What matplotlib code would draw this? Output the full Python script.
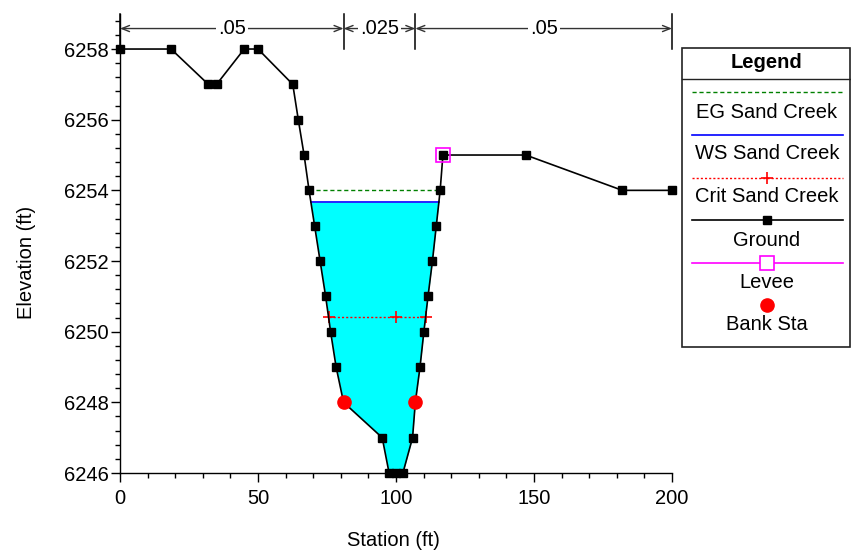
import numpy as np
import matplotlib
matplotlib.use("Agg")
import matplotlib.pyplot as plt
from matplotlib.patches import Rectangle
from matplotlib.ticker import MultipleLocator, FormatStrFormatter

plt.rcParams['font.family'] = ['Liberation Sans', 'DejaVu Sans']

# ---------------- data ----------------
station = [0, 18.5, 32, 35, 45, 50, 62.6, 64.6, 66.7, 68.5, 70.5, 72.5, 74.5,
           76.3, 78.3, 81, 95, 97.5, 100, 102.5, 106, 107, 108.7, 110.1, 111.6,
           113.2, 114.6, 116, 117, 147, 182, 200]
elevation = [6258, 6258, 6257, 6257, 6258, 6258, 6257, 6256, 6255, 6254, 6253,
             6252, 6251, 6250, 6249, 6248, 6247, 6246, 6246, 6246, 6247, 6248,
             6249, 6250, 6251, 6252, 6253, 6254, 6255, 6255, 6254, 6254]
bank_station = [81, 107]
bank_elev = [6248, 6248]
levee_station = [117]
levee_elev = [6255]
eg_elev = 6254.02
ws_elev = 6253.66
crit_elev = 6250.42
crit_mid_station = 100
n_stations = [0, 81, 107, 200]
n_values = ['.05', '.025', '.05']
legend_labels = ['EG Sand Creek', 'WS Sand Creek', 'Crit Sand Creek', 'Ground', 'Levee', 'Bank Sta']

x = np.array(station, dtype=float)
z = np.array(elevation, dtype=float)


def crossings(level):
    i0 = int(np.argmin(z))
    i = i0
    while i > 0 and z[i - 1] < level:
        i -= 1
    xl = np.interp(level, [z[i], z[i - 1]], [x[i], x[i - 1]])
    j = i0
    while j < len(z) - 1 and z[j + 1] < level:
        j += 1
    xr = np.interp(level, [z[j], z[j + 1]], [x[j], x[j + 1]])
    return xl, xr

# ---------------- figure ----------------
W, H = 851, 554
fig = plt.figure(figsize=(W / 100, H / 100), dpi=100)
ax_l, ax_r = 120 / W, 672 / W
ax_b, ax_t = 81 / H, (H - 13.7) / H
ax = fig.add_axes([ax_l, ax_b, ax_r - ax_l, ax_t - ax_b])
ax.set_xlim(0, 200)
ax.set_ylim(6246, 6259)

fs = 14.5

# water fill
wl, wr = crossings(ws_elev)
xf = np.concatenate([[wl], x[(x > wl) & (x < wr)], [wr]])
zf = np.interp(xf, x, z)
ax.fill_between(xf, zf, ws_elev, color='#00FFFF', lw=0, zorder=1)

# WS line
ax.plot([wl, wr], [ws_elev, ws_elev], color='#0000FF', lw=1.2, zorder=3)
# EG line
el, er = crossings(eg_elev)
ax.plot([el, er], [eg_elev, eg_elev], color='#008000', lw=1.0, ls=(0, (3, 2)), zorder=3)
# Crit line
cl, cr = crossings(crit_elev)
ax.plot([cl, cr], [crit_elev, crit_elev], color='#FF0000', lw=1.0, ls=(0, (1.5, 1.5)), zorder=3)
ax.plot([cl, crit_mid_station, cr], [crit_elev] * 3, ls='none', marker='+', ms=8,
        mew=1.2, color='#FF0000', zorder=4)

# ground
ax.plot(x, z, color='black', lw=1.2, marker='s', ms=5.5, zorder=5, clip_on=False)
# levee
ax.plot(levee_station, levee_elev, ls='none', marker='s', ms=9.5, mfc='none',
        mec='#FF00FF', mew=1.2, zorder=6)
# bank stations
ax.plot(bank_station, bank_elev, ls='none', marker='o', ms=9.5, color='#FF0000',
        mec='#FF0000', zorder=7)

# Manning's n annotations
y_arrow = 6258.58
for xs in n_stations:
    ax.plot([xs, xs], [6258, 6259], color='black', lw=1.1, clip_on=False, zorder=8)
for k, val in enumerate(n_values):
    x0, x1 = n_stations[k], n_stations[k + 1]
    ax.annotate('', xy=(x1, y_arrow), xytext=(x0, y_arrow),
                arrowprops=dict(arrowstyle='<->,head_length=0.55,head_width=0.22',
                                color='#333333', lw=1.0, shrinkA=0, shrinkB=0),
                annotation_clip=False, zorder=8)
    ax.text((x0 + x1) / 2, y_arrow, val, ha='center', va='center', fontsize=fs,
            bbox=dict(facecolor='white', edgecolor='none', pad=1.5), zorder=9, clip_on=False)

# axes styling
for s in ['top', 'right']:
    ax.spines[s].set_visible(False)
ax.spines['left'].set_linewidth(1.0)
ax.spines['bottom'].set_linewidth(1.0)
ax.xaxis.set_major_locator(MultipleLocator(50))
ax.xaxis.set_minor_locator(MultipleLocator(10))
ax.yaxis.set_minor_locator(MultipleLocator(0.4))
ax.set_yticks(np.arange(6246, 6259, 2))
ax.tick_params(axis='both', which='major', direction='out', length=6.5, width=1.0, labelsize=fs)
ax.tick_params(axis='both', which='minor', direction='out', length=3.5, width=1.0)
ax.tick_params(axis='x', which='major', pad=5)
ax.tick_params(axis='y', which='major', pad=1.5)
ax.yaxis.set_major_formatter(FormatStrFormatter('%d'))

fig.text(393 / W, 1 - 540 / H, 'Station (ft)', ha='center', va='center', fontsize=fs)
fig.text(27 / W, 1 - 262 / H, 'Elevation (ft)', ha='center', va='center', fontsize=fs,
         rotation=90)

# ---------------- legend (pixel overlay) ----------------
ov = fig.add_axes([0, 0, 1, 1], facecolor='none')
ov.set_xlim(0, W)
ov.set_ylim(H, 0)
ov.axis('off')
ov.add_patch(Rectangle((682, 48), 168, 299, fill=False, edgecolor='#222222', lw=1.2))
ov.plot([682, 850], [79, 79], color='#222222', lw=1.0)
ov.text(767, 63, 'Legend', ha='center', va='center', fontsize=fs, fontweight='bold')
cx = 767
lx0, lx1 = 692, 843
sample_y = [92, 134.5, 177.5, 220, 262.5, 305]
label_y = [112, 153.5, 197, 240, 282.5, 324.5]
ov.plot([lx0, lx1], [sample_y[0]] * 2, color='#008000', lw=1.0, ls=(0, (3, 2)))
ov.plot([lx0, lx1], [sample_y[1]] * 2, color='#0000FF', lw=1.2)
ov.plot([lx0, lx1], [sample_y[2]] * 2, color='#FF0000', lw=1.0, ls=(0, (1.5, 1.5)))
ov.plot([cx], [sample_y[2]], marker='+', ms=8, mew=1.2, color='#FF0000')
ov.plot([lx0, lx1], [sample_y[3]] * 2, color='black', lw=1.2)
ov.plot([cx], [sample_y[3]], marker='s', ms=6, color='black')
ov.plot([lx0, lx1], [sample_y[4]] * 2, color='#FF00FF', lw=1.2)
ov.plot([cx], [sample_y[4]], marker='s', ms=9.5, mfc='white', mec='#FF00FF', mew=1.2)
ov.plot([cx], [sample_y[5]], marker='o', ms=9.5, color='#FF0000')
for lab, yy in zip(legend_labels, label_y):
    ov.text(cx, yy, lab, ha='center', va='center', fontsize=fs)

fig.savefig('out.png', dpi=100)
